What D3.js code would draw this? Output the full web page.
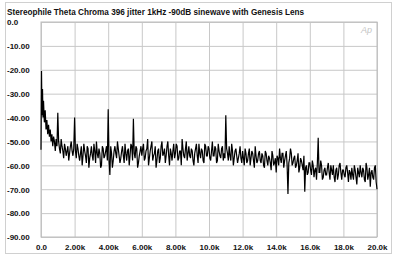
<!DOCTYPE html>
<html><head><meta charset="utf-8">
<script src="https://cdn.jsdelivr.net/npm/d3@7"></script>
<style>body{margin:0;background:#fff}svg{display:block}</style>
</head><body><svg id="c" width="400" height="261"></svg>
<script>
const titleText = "Stereophile  Theta Chroma 396 jitter 1kHz -90dB sinewave with Genesis Lens";
const xTicks = [0,2,4,6,8,10,12,14,16,18,20];
const xTickLabels = ["0.0","2.00k","4.00k","6.00k","8.00k","10.0k","12.0k","14.0k","16.0k","18.0k","20.0k"];
const yTicks = [0,-10,-20,-30,-40,-50,-60,-70,-80,-90];
const yTickLabels = ["0.0","-10.00","-20.00","-30.00","-40.00","-50.00","-60.00","-70.00","-80.00","-90.00"];
const freqK = [0,0.03,0.06,0.09,0.12,0.15,0.2,0.25,0.3,0.35,0.4,0.45,0.5,0.55,0.6,0.65,0.7,0.75,0.8,0.85,0.9,0.95,
1.0,1.1,1.2,1.3,1.4,1.5,1.6,1.7,1.8,1.9,
2.0,2.1,2.2,2.3,2.4,2.5,2.6,2.7,2.8,2.9,
3.0,3.1,3.2,3.3,3.4,3.5,3.6,3.7,3.8,3.9,
4.0,4.1,4.2,4.3,4.4,4.5,4.6,4.7,4.8,4.9,
5.0,5.1,5.2,5.3,5.4,5.5,5.6,5.7,5.8,5.9,
6.0,6.1,6.2,6.3,6.4,6.5,6.6,6.7,6.8,6.9,
7.0,7.1,7.2,7.3,7.4,7.5,7.6,7.7,7.8,7.9,
8.0,8.1,8.2,8.3,8.4,8.5,8.6,8.7,8.8,8.9,
9.0,9.1,9.2,9.3,9.4,9.5,9.6,9.7,9.8,9.9,
10.0,10.1,10.2,10.3,10.4,10.5,10.6,10.7,10.8,10.9,
11.0,11.1,11.2,11.3,11.4,11.5,11.6,11.7,11.8,11.9,
12.0,12.1,12.2,12.3,12.4,12.5,12.6,12.7,12.8,12.9,
13.0,13.1,13.2,13.3,13.4,13.5,13.6,13.7,13.8,13.9,
14.0,14.1,14.2,14.3,14.4,14.5,14.6,14.7,14.8,14.9,
15.0,15.1,15.2,15.3,15.4,15.5,15.6,15.7,15.8,15.9,
16.0,16.1,16.2,16.3,16.4,16.5,16.6,16.7,16.8,16.9,
17.0,17.1,17.2,17.3,17.4,17.5,17.6,17.7,17.8,17.9,
18.0,18.1,18.2,18.3,18.4,18.5,18.6,18.7,18.8,18.9,
19.0,19.1,19.2,19.3,19.4,19.5,19.6,19.7,19.8,19.9,20.0];
const levelDb = [-53.5,-20.5,-39,-28,-40,-33,-42,-37,-45,-41,-47,-43,-48,-45,-50,-47,-52,-48,-50,-54,-49,-52,
-38,-53,-49,-54,-51,-56,-52,-55,-50,-56,
-40,-57,-53,-58,-52,-56,-54,-59,-53,-57,
-52,-58,-54,-50,-57,-55,-60,-53,-56,-52,
-36.5,-64,-55,-58,-52,-57,-53,-59,-54,-56,
-51,-58,-53,-56,-52,-40.5,-57,-53,-59,-54,
-56,-51,-57,-53,-60,-54,-50,-56,-52,-58,
-53,-57,-50,-55,-59,-52,-56,-53,-58,-51,
-55,-52,-57,-54,-49,-56,-53,-58,-52,-57,
-54,-60,-53,-56,-51,-57,-54,-59,-52,-56,
-53,-58,-50,-56,-53,-58,-54,-57,-52,-55,
-39,-55,-52,-58,-54,-57,-53,-59,-55,-57,
-54,-60,-55,-58,-53,-57,-55,-61,-56,-58,
-54,-59,-56,-61,-55,-60,-57,-62,-56,-59,
-63,-57,-53,-59,-55,-58,-54,-72,-57,-55,
-59,-56,-60,-55,-61,-58,-62,-71,-60,-63,
-59,-64,-60,-62,-66,-48.5,-63,-60,-65,-61,
-64,-59,-66,-62,-60,-67,-61,-64,-59,-66,
-62,-65,-60,-67,-63,-61,-66,-62,-68,-63,
-60,-65,-62,-67,-61,-64,-69,-62,-66,-60,-70];
const freqKMid = [1.05,1.15,1.25,1.35,1.45,1.55,1.65,1.75,1.85,1.95,
2.05,2.15,2.25,2.35,2.45,2.55,2.65,2.75,2.85,2.95,
3.05,3.15,3.25,3.35,3.45,3.55,3.65,3.75,3.85,3.95,
4.05,4.15,4.25,4.35,4.45,4.55,4.65,4.75,4.85,4.95,
5.05,5.15,5.25,5.35,5.45,5.55,5.65,5.75,5.85,5.95,
6.05,6.15,6.25,6.35,6.45,6.55,6.65,6.75,6.85,6.95,
7.05,7.15,7.25,7.35,7.45,7.55,7.65,7.75,7.85,7.95,
8.05,8.15,8.25,8.35,8.45,8.55,8.65,8.75,8.85,8.95,
9.05,9.15,9.25,9.35,9.45,9.55,9.65,9.75,9.85,9.95,
10.05,10.15,10.25,10.35,10.45,10.55,10.65,10.75,10.85,10.95,
11.05,11.15,11.25,11.35,11.45,11.55,11.65,11.75,11.85,11.95,
12.05,12.15,12.25,12.35,12.45,12.55,12.65,12.75,12.85,12.95,
13.05,13.15,13.25,13.35,13.45,13.55,13.65,13.75,13.85,13.95,
14.05,14.15,14.25,14.35,14.45,14.55,14.65,14.75,14.85,14.95,
15.05,15.15,15.25,15.35,15.45,15.55,15.65,15.75,15.85,15.95,
16.05,16.15,16.25,16.35,16.45,16.55,16.65,16.75,16.85,16.95,
17.05,17.15,17.25,17.35,17.45,17.55,17.65,17.75,17.85,17.95,
18.05,18.15,18.25,18.35,18.45,18.55,18.65,18.75,18.85,18.95,
19.05,19.15,19.25,19.35,19.45,19.55,19.65,19.75,19.85,19.95];
const levelDbMid = [-50,-55,-52,-57,-53,-54,-58,-52,-54,-53,
-54,-51,-56,-55,-60,-51,-56,-52,-61,-55,
-56,-51,-59,-55,-53,-61,-52,-57,-54,-58,
-58,-52,-61,-54,-55,-50,-56,-57,-52,-59,
-55,-54,-60,-51,-58,-55,-52,-61,-56,-52,
-53,-58,-54,-49,-57,-52,-58,-55,-61,-54,
-59,-52,-56,-53,-56,-50,-60,-55,-54,-57,
-51,-58,-54,-60,-53,-57,-50,-55,-56,-53,
-58,-55,-51,-59,-55,-53,-58,-51,-56,-52,
-57,-54,-56,-52,-59,-51,-56,-53,-58,-57,
-53,-58,-56,-51,-60,-54,-56,-57,-52,-59,
-57,-53,-59,-55,-60,-54,-58,-52,-59,-55,
-58,-55,-60,-54,-58,-56,-59,-54,-60,-57,
-56,-60,-57,-55,-61,-56,-60,-59,-53,-60,
-57,-61,-58,-63,-57,-60,-56,-61,-64,-59,
-62,-58,-65,-61,-59,-63,-58,-66,-62,-64,
-61,-63,-60,-64,-65,-62,-66,-60,-63,-62,
-64,-61,-63,-62,-66,-64,-60,-65,-61,-65,
-63,-61,-66,-59,-66,-61,-63,-65,-61,-67];

const svg = d3.select("#c");
const font = "Liberation Sans, Arial, sans-serif";
const L = 41, R = 377, T = 22, B = 237;
const x = d3.scaleLinear().domain([0,20]).range([L,R]);
const y = d3.scaleLinear().domain([0,-90]).range([T,B]);

svg.append("rect").attr("x",5.5).attr("y",2.5).attr("width",386).attr("height",251)
  .attr("fill","#fff").attr("stroke","#d0d0d0").attr("stroke-width",1);

svg.append("text").attr("x",7).attr("y",14.5).attr("font-family",font).attr("font-weight","bold")
  .attr("font-size",8.2).attr("fill","#111").text(titleText);

const gx = svg.append("g").attr("transform",`translate(0,${B})`)
  .call(d3.axisBottom(x).tickValues(xTicks).tickSize(-(B-T)).tickFormat((d,i)=>xTickLabels[i]));
gx.select(".domain").remove();
gx.selectAll(".tick line").attr("stroke","#c8c8c8").attr("stroke-width",1);
gx.selectAll(".tick text").attr("font-family",font).attr("font-weight","bold").attr("font-size",8)
  .attr("fill","#111").attr("dy",0).attr("y",12.5);

const gy = svg.append("g").attr("transform",`translate(${L},0)`)
  .call(d3.axisLeft(y).tickValues(yTicks).tickSize(-(R-L)).tickFormat((d,i)=>yTickLabels[i]));
gy.select(".domain").remove();
gy.selectAll(".tick line").attr("stroke","#c8c8c8").attr("stroke-width",1);
gy.selectAll(".tick text").attr("font-family",font).attr("font-weight","bold").attr("font-size",8)
  .attr("fill","#111").attr("text-anchor","start").attr("x",7-L).attr("dy","0.35em");

svg.append("rect").attr("x",L).attr("y",T).attr("width",R-L).attr("height",B-T)
  .attr("fill","none").attr("stroke","#bdbdbd").attr("stroke-width",1);

svg.append("text").attr("x",361).attr("y",33).attr("font-family",font).attr("font-style","italic")
  .attr("font-size",9).attr("fill","#c4c4c4").text("Ap");

const pts = freqK.map((f,i)=>[f,levelDb[i]])
  .concat(freqKMid.map((f,i)=>[f,levelDbMid[i]]))
  .sort((a,b)=>a[0]-b[0]);
svg.append("path").datum(pts)
  .attr("d", d3.line().x(d=>x(d[0])).y(d=>y(d[1])))
  .attr("fill","none").attr("stroke","#000").attr("stroke-width",1.2).attr("stroke-linejoin","miter");
</script></body></html>
